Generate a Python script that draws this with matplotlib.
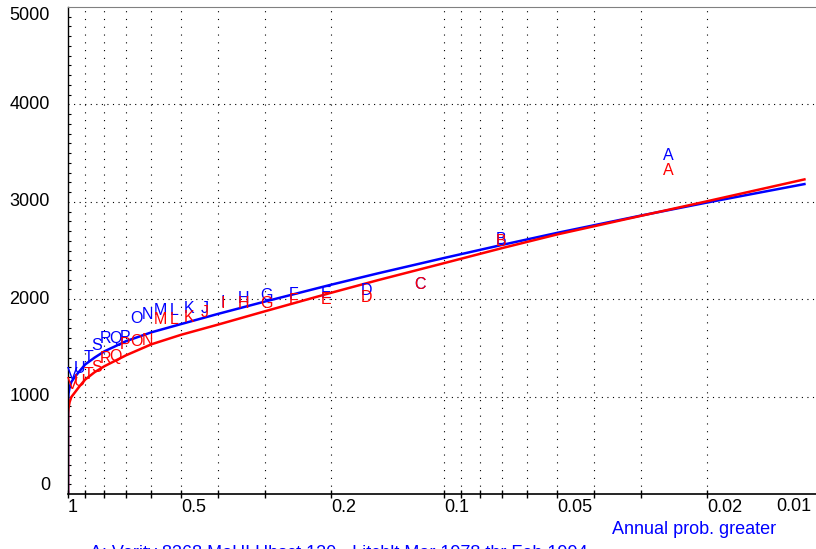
import numpy as np
import matplotlib
matplotlib.use("Agg")
import matplotlib.pyplot as plt
from matplotlib.ticker import NullFormatter

plt.rcParams['font.family'] = ['Liberation Sans', 'DejaVu Sans']

# ranked annual maxima, A = largest ... V = smallest, at their plotting positions
letters = list("ABCDEFGHIJKLMNOPQRSTUV")
prob = [0.0253, 0.0705, 0.1157, 0.1609, 0.2061, 0.2514, 0.2966, 0.3418,
        0.3870, 0.4322, 0.4774, 0.5226, 0.5678, 0.6130, 0.6582, 0.7034,
        0.7486, 0.7939, 0.8391, 0.8843, 0.9295, 0.9747]
blue_q = [3480, 2615, 2146, 2087, 2061, 2053, 2043, 2009, 1965, 1905, 1903,
          1888, 1885, 1838, 1804, 1610, 1600, 1595, 1520, 1403, 1290, 1222]
red_q = [3326, 2595, 2146, 2020, 1992, 1990, 1960, 1955, 1953, 1861, 1814,
         1792, 1790, 1581, 1564, 1530, 1410, 1393, 1295, 1230, 1160, 1120]

# fitted growth curves
curve_p = [1.0, 0.99995, 0.9998, 0.999, 0.997, 0.99, 0.98, 0.96, 0.93, 0.9,
           0.85, 0.8, 0.7, 0.6, 0.5, 0.4, 0.3, 0.2, 0.15, 0.1, 0.07, 0.05,
           0.03, 0.02, 0.011]
blue_curve = [0, 600, 800, 950, 1030, 1095, 1150, 1200, 1265, 1330, 1400, 1465,
              1570, 1660, 1745, 1848, 1975, 2148, 2265, 2423, 2558, 2681, 2858,
              2992, 3182]
red_curve = [0, 500, 700, 830, 880, 945, 995, 1040, 1110, 1175, 1250, 1312,
             1425, 1537, 1635, 1738, 1875, 2065, 2195, 2370, 2525, 2665, 2855,
             3005, 3230]

major = [1, 0.5, 0.2, 0.1, 0.05, 0.02, 0.01]
major_lab = ['1', '0.5', '0.2', '0.1', '0.05', '0.02', '']
minor = [0.9, 0.8, 0.7, 0.6, 0.4, 0.3, 0.09, 0.08, 0.07, 0.06, 0.04, 0.03]
yticks = [0, 1000, 2000, 3000, 4000, 5000]

fig = plt.figure(figsize=(8.16, 5.49), dpi=100)
ax = fig.add_axes([68/816, 55/549, 752/816, 487/549])
ax.set_xscale('log')
ax.set_xlim(1, 0.01)
ax.set_ylim(0, 5000)

# dotted grid
for p in major[1:-1] + minor:
    ax.axvline(p, color='k', lw=0.8, ls=(0, (1, 6)), zorder=0)
for y in yticks[1:-1]:
    ax.axhline(y, color='k', lw=0.8, ls=(0, (1, 4)), zorder=0)

ax.plot(curve_p, blue_curve, color='#0000ff', lw=1.8)
ax.plot(curve_p, red_curve, color='#ff0000', lw=1.8)

for p, q, s in zip(prob, blue_q, letters):
    ax.text(p, q, s, color='#0000ff', ha='center', va='center', fontsize=11.5)
for p, q, s in zip(prob, red_q, letters):
    ax.text(p, q, s, color='#ff0000', ha='center', va='center', fontsize=11.5)

ax.set_xticks(major)
ax.set_xticklabels(major_lab)
ax.set_xticks(minor, minor=True)
ax.xaxis.set_minor_formatter(NullFormatter())
ax.tick_params(axis='x', which='both', direction='inout', length=5.5,
               width=1, pad=0.5, labelsize=13)
for lab in ax.get_xticklabels():
    lab.set_ha('left')

ax.set_yticks(yticks)
ax.set_yticks(np.arange(0, 5001, 100), minor=True)
ax.tick_params(axis='y', which='major', length=0, pad=13, labelsize=13)
ax.tick_params(axis='y', which='minor', direction='in', length=2, width=0.8)
ylabs = ax.get_yticklabels()
for lab in ylabs:
    lab.set_va('center')
ylabs[0].set_va('bottom')
ylabs[-1].set_va('top')

ax.spines['right'].set_visible(False)
ax.spines['top'].set_color('#808080')
ax.spines['left'].set_linewidth(1)
ax.spines['bottom'].set_linewidth(1.2)

fig.text(811/816, 1 - 498/549, '0.01', ha='right', va='top', fontsize=13)
fig.text(694/816, 1 - 530/549, 'Annual prob. greater', color='#0000ff',
         ha='center', va='center', fontsize=13)
fig.text(90/816, 1 - 545.5/549, 'A: Verity 8368 MoHI Hbsct 120 - Litchlt Mar 1978 thr Feb 1994',
         color='#0000ff', ha='left', va='top', fontsize=13)

fig.savefig('out.png', dpi=100)
